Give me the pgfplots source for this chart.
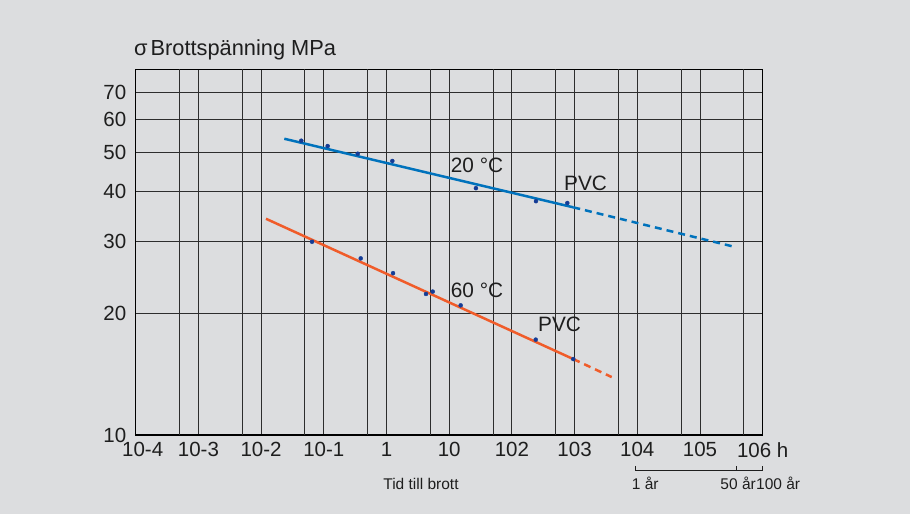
\documentclass[border=0pt]{standalone}
\usepackage{fontspec}
\setmainfont{Liberation Sans}
\usepackage{pgfplots}
\pgfplotsset{compat=1.18}
\definecolor{bg}{RGB}{220,221,223}
\definecolor{lblue}{RGB}{0,114,188}
\definecolor{lorange}{RGB}{240,92,42}
\definecolor{dotblue}{RGB}{20,60,150}
\definecolor{gridc}{RGB}{45,45,45}
\definecolor{txt}{RGB}{30,30,30}
\begin{document}
\begin{tikzpicture}
\fill[bg] (0pt,0pt) rectangle (910pt,514pt);
\useasboundingbox (0pt,0pt) rectangle (910pt,514pt);
\begin{axis}[
  at={(135.7pt,79pt)}, anchor=south west,
  scale only axis, width=627pt, height=365.7pt,
  xmode=log, ymode=log,
  xmin=1e-4, xmax=1e6, ymin=10, ymax=80,
  axis line style={black, line width=1.2pt},
  xtick={1e-4,1e-3,1e-2,1e-1,1,10,100,1000,1e4,1e5,1e6},
  xticklabels={\hspace*{14pt}10-4,10-3,10-2,10-1,1,10,102,103,104,105,106 h},
  extra x ticks={5e-4,5e-3,5e-2,0.5,5,50,500,5000,5e4,5e5},
  extra x tick labels={},
  extra x tick style={grid=major},
  ytick={10,20,30,40,50,60,70},
  yticklabels={10,20,30,40,50,60,70},
  grid=major,
  major grid style={gridc, line width=0.9pt},
  tick style={draw=none},
  ticklabel style={font=\fontsize{20.5}{24}\selectfont, text=txt},
  yticklabel style={xshift=-6pt},
  xticklabel style={yshift=-4pt},
  clip=false,
]
\addplot[lblue, line width=2.5pt] coordinates {(0.02344,53.9) (952.8,36.5)};
\addplot[lblue, line width=2.5pt, dash pattern=on 7pt off 5pt] coordinates {(952.8,36.5) (339600,29.2)};
\addplot[lorange, line width=2.5pt] coordinates {(0.01197,34.2) (952.8,15.4)};
\addplot[lorange, line width=2.5pt, dash pattern=on 7pt off 5pt] coordinates {(952.8,15.4) (3908,13.9)};
\addplot[only marks, mark=*, mark size=2pt, dotblue] coordinates {
 (0.04375,53.3) (0.1153,51.7) (0.3475,49.5) (1.239,47.5) (26.7,40.7) (242.1,37.8) (765.6,37.4)};
\addplot[only marks, mark=*, mark size=2pt, dotblue] coordinates {
 (0.06486,30.0) (0.3882,27.3) (1.271,25.1) (4.266,22.3) (5.458,22.6) (15.24,20.9) (239.9,17.2) (952.8,15.4)};
\end{axis}
\begin{scope}[every node/.style={text=txt, inner sep=0pt}]
\node[anchor=base west, font=\fontsize{21.8}{26}\selectfont] at (134pt,458.7pt) {σ\kern3pt Brottspänning MPa};
\node[anchor=base west, font=\fontsize{20.8}{24}\selectfont] at (450.7pt,341.3pt) {20 °C};
\node[anchor=base west, font=\fontsize{20.8}{24}\selectfont] at (564pt,323.3pt) {PVC};
\node[anchor=base west, font=\fontsize{20.8}{24}\selectfont] at (450.7pt,216.3pt) {60 °C};
\node[anchor=base west, font=\fontsize{20.8}{24}\selectfont] at (538pt,182.3pt) {PVC};
\node[anchor=base, font=\fontsize{15.5}{18}\selectfont] at (421pt,25pt) {Tid till brott};
\node[anchor=base west, font=\fontsize{15.5}{18}\selectfont] at (631.7pt,24pt) {1 år};
\node[anchor=base east, font=\fontsize{15.5}{18}\selectfont] at (756pt,24pt) {50 år};
\node[anchor=base west, font=\fontsize{15.5}{18}\selectfont] at (756pt,24pt) {100 år};
\end{scope}
\draw[txt, line width=1pt] (635.3pt,48pt) -- (635.3pt,43.3pt) -- (762.7pt,43.3pt) -- (762.7pt,48pt);
\draw[txt, line width=1pt] (736.7pt,43.3pt) -- (736.7pt,48pt);
\end{tikzpicture}
\end{document}
